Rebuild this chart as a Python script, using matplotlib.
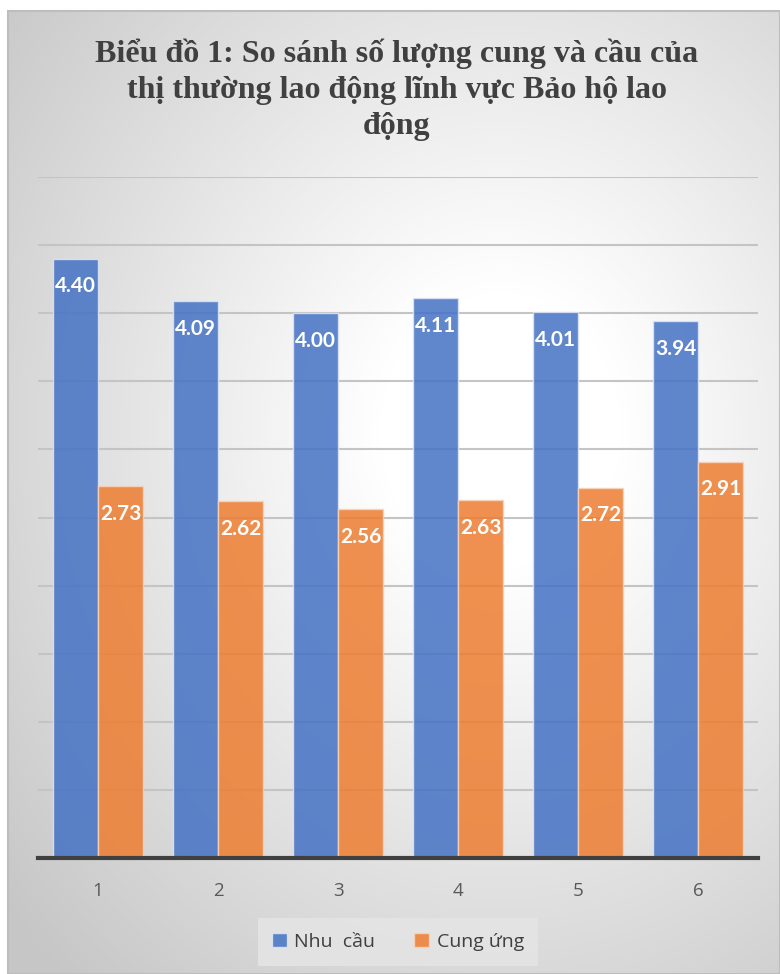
import numpy as np
import matplotlib.pyplot as plt
from matplotlib.patches import Rectangle

# Dữ liệu
categories = ['1', '2', '3', '4', '5', '6']
nhu_cau = [4.40, 4.09, 4.00, 4.11, 4.01, 3.94]
cung_ung = [2.73, 2.62, 2.56, 2.63, 2.72, 2.91]
series_names = ['Nhu  cầu', 'Cung ứng']
title = 'Biểu đồ 1: So sánh số lượng cung và cầu của\nthị thường lao động lĩnh vực Bảo hộ lao\nđộng'

W, H = 780, 974
fig = plt.figure(figsize=(W / 100, H / 100), dpi=100)

# Nền gradient xám (khung biểu đồ)
bg = fig.add_axes([0, 0, 1, 1], zorder=-10)
yy, xx = np.mgrid[0:H, 0:W]
d = np.sqrt(((xx - 500) / 1.0) ** 2 + ((yy - 430) / 1.15) ** 2)
v = 1.0 - np.clip((d - 120) / 520, 0, 1) * 0.22
img = np.dstack([v, v, v])
img[:11, :, :] = 1.0
img[:, :8, :] = 1.0
bg.imshow(img, extent=[0, W, H, 0], aspect='auto', interpolation='bilinear')
bg.add_patch(Rectangle((8, 11), W - 8, H - 11, fill=False, edgecolor='#bdbdbd', lw=1.5))
bg.set_xlim(0, W)
bg.set_ylim(H, 0)
bg.axis('off')

# Vùng vẽ
ax = fig.add_axes([38 / W, (H - 858) / H, 720 / W, (858 - 177) / H])
ax.patch.set_alpha(0)

x = np.arange(len(categories))
w = 0.375
b1 = ax.bar(x - w / 2, nhu_cau, w, color='#4472C4', alpha=0.85,
            edgecolor='#dfe6f5', linewidth=1.0, label=series_names[0], zorder=3)
b2 = ax.bar(x + w / 2, cung_ung, w, color='#ED7D31', alpha=0.85,
            edgecolor='#f8d5bd', linewidth=1.0, label=series_names[1], zorder=3)

for bars, vals in [(b1, nhu_cau), (b2, cung_ung)]:
    for rect, val in zip(bars, vals):
        ax.annotate(f'{val:.2f}', (rect.get_x() + rect.get_width() / 2, val),
                    xytext=(0, -20), textcoords='offset points',
                    ha='center', va='center', color='white', fontsize=15,
                    fontweight='bold', family='Lato', zorder=5)

ax.set_xlim(-0.5, len(categories) - 0.5)
ax.set_ylim(0, 5.0)
ax.set_yticks(np.arange(0.5, 5.01, 0.5))
ax.yaxis.grid(True, color='#c4c4c4', linewidth=1.5, zorder=0)
ax.tick_params(axis='y', left=False, labelleft=False)
ax.set_xticks(x)
ax.set_xticklabels(categories, fontsize=13.5, color='#595959', family='Open Sans')
ax.tick_params(axis='x', length=0, pad=17)
for s in ['top', 'right', 'left']:
    ax.spines[s].set_visible(False)
ax.spines['bottom'].set_color('#404040')
ax.spines['bottom'].set_linewidth(3)
ax.spines['bottom'].set_zorder(6)

# Tiêu đề
fig.text(397 / W, 1 - 90 / H, title, ha='center', va='center',
         fontsize=23, fontweight='bold', family='Liberation Serif',
         color='#404040', linespacing=1.32)

# Chú giải
leg = fig.legend(loc='center', bbox_to_anchor=(398 / W, 1 - 942 / H),
                 ncol=2, frameon=True, handlelength=0.75,
                 handleheight=0.75, handletextpad=0.4, columnspacing=2.0,
                 prop={'family': 'Open Sans', 'size': 14})
leg.get_frame().set_facecolor('#e4e4e4')
leg.get_frame().set_edgecolor('none')
leg.get_frame().set_alpha(0.9)
leg.get_frame().set_boxstyle('square', pad=0.35)
for t in leg.get_texts():
    t.set_color('#404040')

fig.savefig('out.png', dpi=100)
